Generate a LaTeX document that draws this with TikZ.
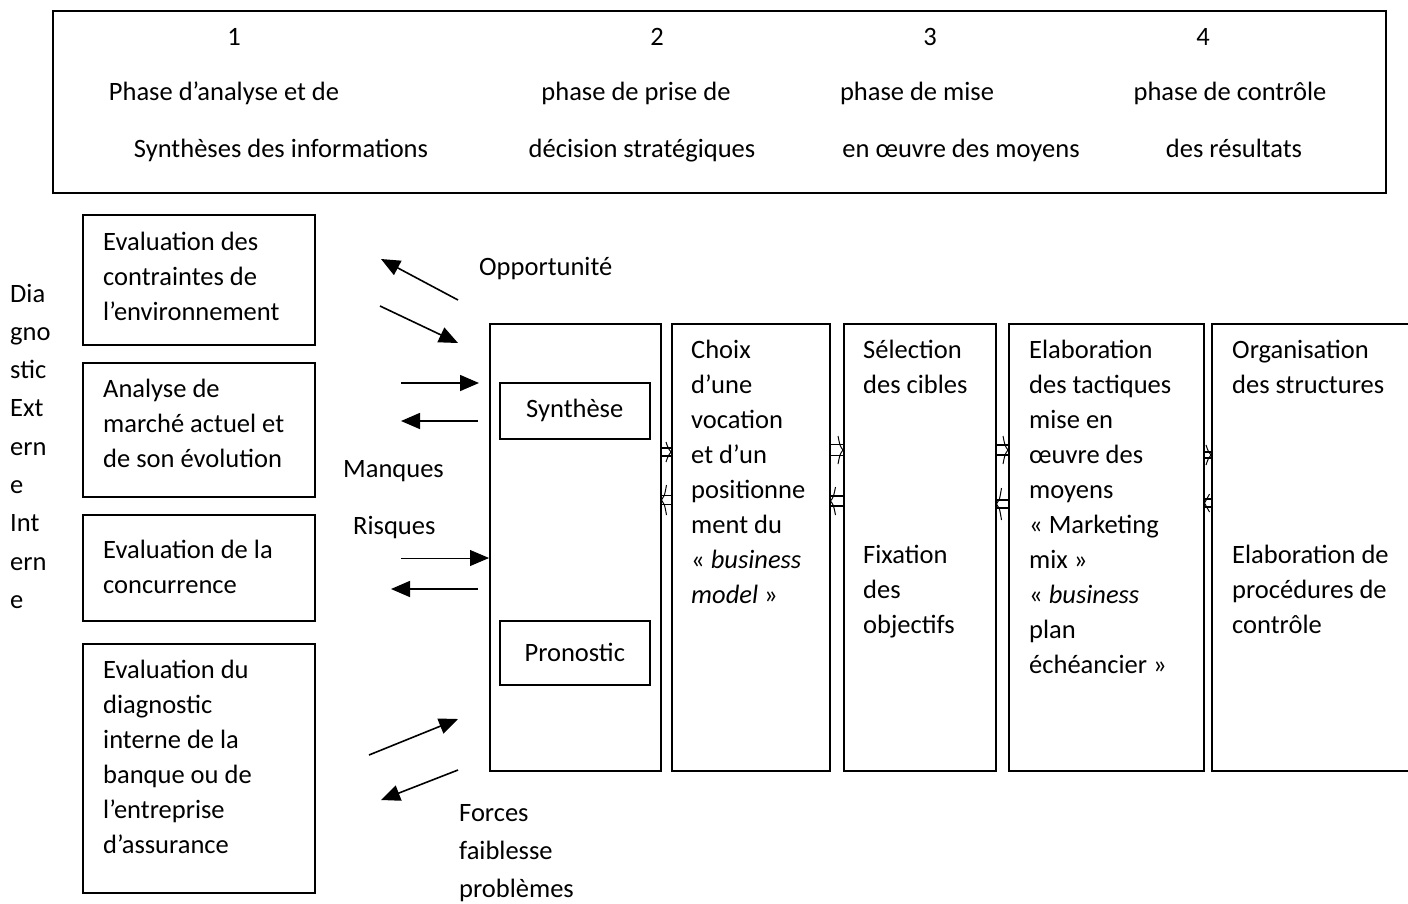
\documentclass[tikz,border=0pt]{standalone}
\usepackage{fontspec}
\setmainfont{Carlito}
\usetikzlibrary{calc,arrows.meta}
\newcommand\bodyfont{\fontsize{26.5}{35}\selectfont}
\newcommand\sidefont{\fontsize{26.5}{38.3}\selectfont}

% hollow link arrow between two boxes:
% #1 start anchor, #2 end anchor, #3 height, #4 direction (+1 right, -1 left),
% #5 half height of the shaft, #6 half height of the barbs
\newcommand\blockarrow[6]{%
  \draw[blk] ($(#1 |- 0,#3)+(0,-#5)$) -- ($(#2 |- 0,#3)+(0,-#5)$);
  \draw[blk] ($(#1 |- 0,#3)+(0,#5)$) -- ($(#2 |- 0,#3)+(0,#5)$);
  \draw[barb] ($(#2 |- 0,#3)+(-5*#4,-#6)$) .. controls ($(#2 |- 0,#3)+(-3*#4,-4)$) .. ($(#2 |- 0,#3)$)
    .. controls ($(#2 |- 0,#3)+(-3*#4,4)$) .. ($(#2 |- 0,#3)+(-5*#4,#6)$);}

\begin{document}
\begin{tikzpicture}[x=1pt,y=-1pt,
  box/.style={draw, line width=1.5pt, anchor=north west, inner sep=0pt},
  txt/.style={anchor=north west, inner sep=0pt, align=left, font=\bodyfont},
  hdr/.style={anchor=base, inner sep=0pt, font=\bodyfont},
  lbl/.style={anchor=base west, inner sep=0pt, font=\bodyfont},
  arr/.style={line width=1.6pt, -{Triangle[length=19pt,width=16pt]}},
  thinarr/.style={line width=0.8pt, -{Triangle[length=19pt,width=16pt]}},
  blk/.style={line width=1.4pt},
  barb/.style={line width=1pt}]
\useasboundingbox (0,0) rectangle (1408,903);

% phase header
\node[box, minimum width=1333pt, minimum height=182pt] (top) at (52,10) {};
\node[hdr] (n1) at (234,45) {1};
\node[hdr] (n2) at (657,45) {2};
\node[hdr] (n3) at (930,45) {3};
\node[hdr] (n4) at (1203,45) {4};
\node[hdr] (p1a) at (224,100) {Phase d’analyse et de};
\node[hdr] (p2a) at (636,100) {phase de prise de};
\node[hdr] (p3a) at (917,100) {phase de mise};
\node[hdr] (p4a) at (1230,100) {phase de contrôle};
\node[hdr] (p1b) at (281,157) {Synthèses des informations};
\node[hdr] (p2b) at (642,157) {décision stratégiques};
\node[hdr] (p3b) at (961,157) {en œuvre des moyens};
\node[hdr] (p4b) at (1234,157) {des résultats};

% side label
\node[anchor=north west, inner sep=0pt, align=left, font=\sidefont] (side) at (10,275)
  {\strut Dia\\gno\\stic\\Ext\\ern\\e\\Int\\ern\\e};

% diagnostic boxes
\node[box, minimum width=232pt, minimum height=130pt] (d1) at (82,214) {};
\node[txt] at (103,225.5) {\strut Evaluation des\\contraintes de\\l’environnement};
\node[box, minimum width=232pt, minimum height=134pt] (d2) at (82,362) {};
\node[txt] at (103,372.5) {\strut Analyse de\\marché actuel et\\de son évolution};
\node[box, minimum width=232pt, minimum height=106pt] (d3) at (82,514) {};
\node[txt] at (103,533.5) {\strut Evaluation de la\\concurrence};
\node[box, minimum width=232pt, minimum height=249pt] (d4) at (82,643) {};
\node[txt] at (103,653.5) {\strut Evaluation du\\diagnostic\\interne de la\\banque ou de\\l’entreprise\\d’assurance};

% main chain of boxes
\node[box, minimum width=171pt, minimum height=447pt] (A) at (489,323) {};
\node[box, minimum width=150pt, minimum height=56pt] (syn) at (499,382) {};
\node[font=\bodyfont, inner sep=0pt] at (syn.center) {Synthèse};
\node[box, minimum width=150pt, minimum height=64pt] (pro) at (499,620) {};
\node[font=\bodyfont, inner sep=0pt] at (pro.center) {Pronostic};

\node[box, minimum width=158pt, minimum height=447pt] (B) at (671,323) {};
\node[txt] at (691,333.5) {\strut Choix\\d’une\\vocation\\et d’un\\positionne\\ment du\\« \textit{business}\\\textit{model} »};

\node[box, minimum width=152pt, minimum height=447pt] (C) at (843,323) {};
\node[txt] at (863,333.5) {\strut Sélection\\des cibles};
\node[txt] at (863,538.5) {\strut Fixation\\des\\objectifs};

\node[box, minimum width=195pt, minimum height=447pt] (D) at (1008,323) {};
\node[txt] at (1029,333.5) {\strut Elaboration\\des tactiques\\mise en\\œuvre des\\moyens\\« Marketing\\mix »\\« \textit{business}\\plan\\échéancier »};

\node[box, minimum width=230pt, minimum height=447pt] (E) at (1211,323) {};
\node[txt] at (1232,333.5) {\strut Organisation\\des structures};
\node[txt] at (1232,538.5) {\strut Elaboration de\\procédures de\\contrôle};

% labels
\node[lbl] (opp) at (479,275) {Opportunité};
\node[lbl] (man) at (343,477) {Manques};
\node[lbl] (ris) at (353,534) {Risques};
\node[anchor=north west, inner sep=0pt, align=left, font=\sidefont] (for) at (459,794)
  {\strut Forces\\faiblesse\\problèmes};

% free ends of the environment arrows
\coordinate (o1s) at (458,300); \coordinate (o1e) at (381,259);
\coordinate (o2s) at (380,306); \coordinate (o2e) at (458,343);
\coordinate (s1s) at (401,383); \coordinate (s1e) at (479,383);
\coordinate (s2s) at (478,421); \coordinate (s2e) at (401,421);
\coordinate (r1s) at (401,558); \coordinate (r1e) at (489,558);
\coordinate (r2s) at (478,589); \coordinate (r2e) at (391,589);
\coordinate (f1s) at (369,755); \coordinate (f1e) at (458,719);
\coordinate (f2s) at (458,770); \coordinate (f2e) at (381,800);

\draw[arr] (o1s) -- (o1e);
\draw[arr] (o2s) -- (o2e);
\draw[arr] (s1s) -- (s1e);
\draw[arr] (s2s) -- (s2e);
\draw[thinarr] (r1s) -- (r1e);
\draw[arr] (r2s) -- (r2e);
\draw[arr] (f1s) -- (f1e);
\draw[arr] (f2s) -- (f2e);

% links between the chained boxes
\blockarrow{A.east}{B.west}{452}{1}{4}{10}
\blockarrow{B.west}{A.east}{500}{-1}{4.5}{15}
\blockarrow{B.east}{C.west}{450}{1}{5.5}{14}
\blockarrow{C.west}{B.east}{501}{-1}{5}{14}
\blockarrow{C.east}{D.west}{450}{1}{5}{14}
\blockarrow{D.west}{C.east}{504}{-1}{4}{16}
\blockarrow{D.east}{E.west}{455}{1}{3}{10}
\blockarrow{E.west}{D.east}{503}{-1}{4}{9}
\end{tikzpicture}
\end{document}
